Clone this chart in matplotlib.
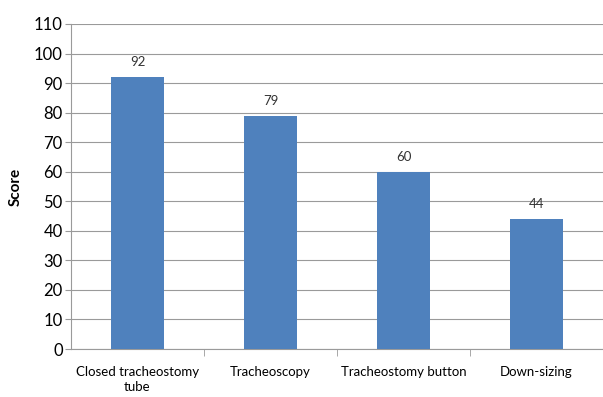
import matplotlib
matplotlib.use("Agg")
import matplotlib.pyplot as plt
import numpy as np

categories = ["Closed tracheostomy\ntube", "Tracheoscopy", "Tracheostomy button", "Down-sizing"]
scores = [92, 79, 60, 44]
yticks = list(range(0, 111, 10))

plt.rcParams['font.family'] = ['Lato', 'DejaVu Sans']

fig = plt.figure(figsize=(6.03, 3.97), dpi=100)
ax = fig.add_axes([71 / 603, 1 - 349 / 397, (603 - 71) / 603, (349 - 24) / 397])

x = np.arange(len(categories))
bars = ax.bar(x, scores, width=0.4, color="#4F81BD", zorder=3)

for xi, v in zip(x, scores):
    ax.text(xi, v + 3, str(v), ha="center", va="bottom", fontsize=9.5, color="#333333")

ax.set_xlim(-0.5, len(categories) - 0.5)
ax.set_ylim(0, 110)
ax.set_yticks(yticks)
ax.set_yticklabels([str(t) for t in yticks], fontsize=12)
ax.yaxis.grid(True, color="#9A9A9A", linewidth=0.8, zorder=0)

# category labels between boundary ticks, excel style
ax.set_xticks(x)
ax.set_xticklabels(categories, fontsize=9.5, linespacing=1.3)
ax.tick_params(axis="x", length=0, pad=12)
ax.set_xticks(np.arange(-0.5, len(categories), 1)[1:-1], minor=True)
ax.tick_params(axis="x", which="minor", length=5, color="#9A9A9A")
ax.tick_params(axis="y", length=4, color="#9A9A9A", pad=2)

for s in ["top", "right"]:
    ax.spines[s].set_visible(False)
for s in ["left", "bottom"]:
    ax.spines[s].set_color("#9A9A9A")

ax.set_ylabel("Score", fontsize=11, fontweight="bold", labelpad=8)

fig.savefig("out.png", dpi=100)
